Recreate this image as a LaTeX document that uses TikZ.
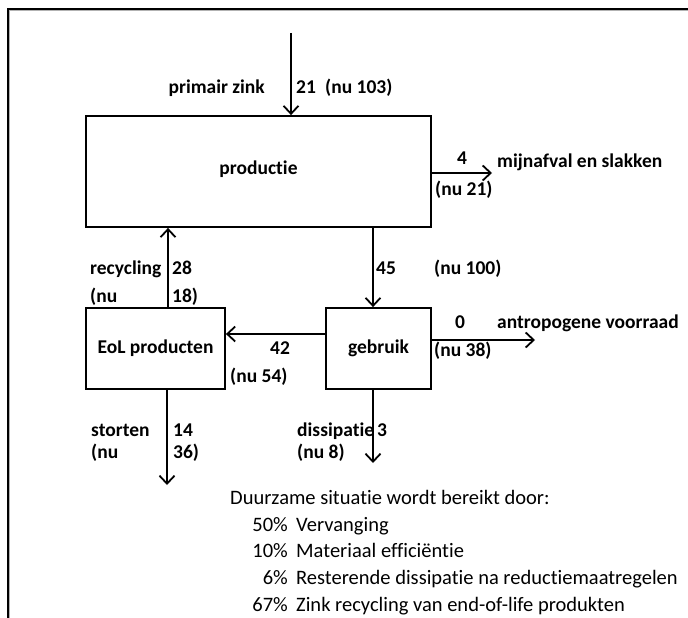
\documentclass[tikz,border=0pt]{standalone}
\usepackage{fontspec}
\setmainfont{Carlito}[Ligatures=CommonOff]
\usetikzlibrary{arrows.meta}
\begin{document}
\begin{tikzpicture}[x=1pt,y=-1pt,
  lbl/.style={font=\bfseries\fontsize{19.5}{20}\selectfont, inner sep=0pt, text height=13pt, text depth=4pt},
  txt/.style={font=\fontsize{20.5}{21}\selectfont, inner sep=0pt, text height=13pt, text depth=4pt},
  box/.style={draw, line width=1.8pt, inner sep=0pt, font=\bfseries\fontsize{19.5}{20}\selectfont},
  flow/.style={line width=1.8pt, -{Straight Barb[length=8pt,width=15pt,line width=1.8pt]}}]
\useasboundingbox (0,0) rectangle (688,618);
% frame
\draw[gray!60, line width=1pt] (9.8,618) -- (9.8,10.8) -- (688,10.8);
\draw[line width=1.5pt] (8,618) -- (8,9) -- (688,9);
% boxes
\node[box, minimum width=345pt, minimum height=111pt] (prod) at (258.5,171.5) {\raisebox{8pt}{productie}};
\node[box, minimum width=139pt, minimum height=81pt] (eol) at (155.5,348.5) {EoL producten};
\node[box, minimum width=105pt, minimum height=81pt] (geb) at (378.5,348.5) {gebruik};
% free ends
\coordinate (pzstart) at (291,33);
\coordinate (mijnend) at (492,173);
\coordinate (recx) at (168,270);
\coordinate (gebx) at (373,270);
\coordinate (eoly) at (250,334);
\coordinate (antend) at (535,340);
\coordinate (stortend) at (167,485);
\coordinate (dissend) at (373,463);
% connectors
\draw[flow] (pzstart) -- (pzstart |- prod.north);
\draw[flow] (prod.east |- mijnend) -- (mijnend);
\draw[flow] (recx |- eol.north) -- (recx |- prod.south);
\draw[flow] (gebx |- prod.south) -- (gebx |- geb.north);
\draw[flow] (geb.west |- eoly) -- (eol.east |- eoly);
\draw[flow] (geb.east |- antend) -- (antend);
\draw[flow] (stortend |- eol.south) -- (stortend);
\draw[flow] (dissend |- geb.south) -- (dissend);
% labels
\node[lbl, anchor=east] (l1) at (265,89) {primair zink};
\node[lbl, anchor=west] (l2) at (296,89) {21};
\node[lbl, anchor=west] (l3) at (325,89) {(nu 103)};
\node[lbl] (l4) at (462,160) {4};
\node[lbl, anchor=west] (l5) at (435,191) {(nu 21)};
\node[lbl, anchor=west] (l6) at (497,163) {mijnafval en slakken};
\node[lbl, anchor=west] (l7) at (90,270) {recycling};
\node[lbl, anchor=west] (l8) at (172,270) {28};
\node[lbl, anchor=west] (l9) at (90,298) {(nu};
\node[lbl, anchor=west] (l10) at (172,298) {18)};
\node[lbl, anchor=west] (l11) at (376,270) {45};
\node[lbl, anchor=west] (l12) at (434,270) {(nu 100)};
\node[lbl] (l13) at (280,350) {42};
\node[lbl, anchor=west] (l14) at (230,378) {(nu 54)};
\node[lbl] (l15) at (460,324) {0};
\node[lbl, anchor=west] (l16) at (497,324) {antropogene voorraad};
\node[lbl, anchor=west] (l17) at (434,352) {(nu 38)};
\node[lbl, anchor=west] (l18) at (91,432) {storten};
\node[lbl, anchor=west] (l19) at (173,432) {14};
\node[lbl, anchor=west] (l20) at (91,454) {(nu};
\node[lbl, anchor=west] (l21) at (173,454) {36)};
\node[lbl, anchor=west] (l22) at (297,432) {dissipatie};
\node[lbl, anchor=west] (l23) at (377,432) {3};
\node[lbl, anchor=west] (l24) at (297,454) {(nu 8)};
% bottom text
\node[txt, anchor=west] (t0) at (230,500) {Duurzame situatie wordt bereikt door:};
\node[txt, anchor=east] (p1) at (288,527) {50\%};
\node[txt, anchor=west] (t1) at (296,527) {Vervanging};
\node[txt, anchor=east] (p2) at (288,553) {10\%};
\node[txt, anchor=west] (t2) at (296,553) {Materiaal efficiëntie};
\node[txt, anchor=east] (p3) at (288,580) {6\%};
\node[txt, anchor=west] (t3) at (296,580) {Resterende dissipatie na reductiemaatregelen};
\node[txt, anchor=east] (p4) at (288,607) {67\%};
\node[txt, anchor=west] (t4) at (296,607) {Zink recycling van end-of-life produkten};
\end{tikzpicture}
\end{document}
